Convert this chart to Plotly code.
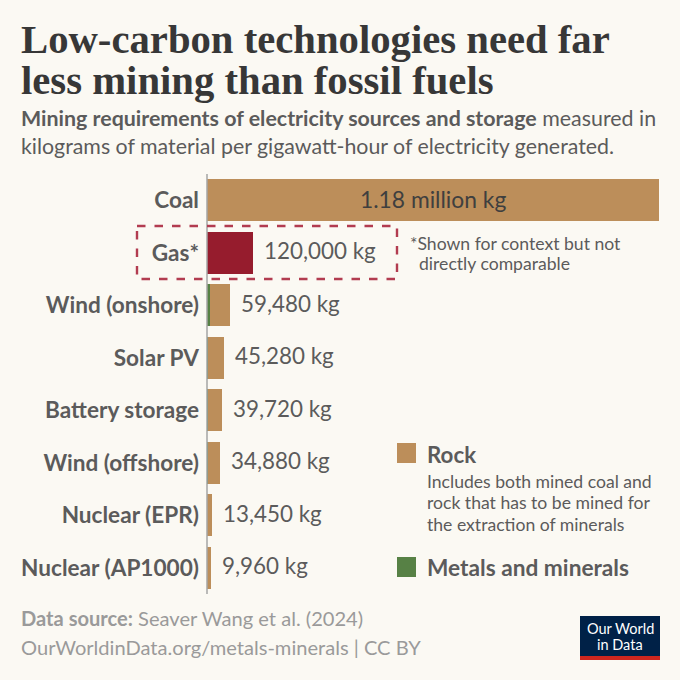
import plotly.graph_objects as go

categories = ["Coal", "Gas*", "Wind (onshore)", "Solar PV", "Battery storage",
              "Wind (offshore)", "Nuclear (EPR)", "Nuclear (AP1000)"]
totals = [1180000, 120000, 59480, 45280, 39720, 34880, 13450, 9960]
metals = [0, 0, 7500, 1900, 1300, 1700, 300, 250]
rock = [1180000, 0, 51980, 43380, 38420, 33180, 13150, 9710]
gas = [0, 120000, 0, 0, 0, 0, 0, 0]
labels = ["1.18 million kg", "120,000 kg", "59,480 kg", "45,280 kg", "39,720 kg",
          "34,880 kg", "13,450 kg", "9,960 kg"]

BG = "#fbf9f3"
TXT = "#5b5b5b"
W = H = 680
px = lambda v: v / W
py = lambda v: 1 - v / H

fig = go.Figure()
fig.add_bar(y=categories, x=metals, orientation="h", marker=dict(color="#578145", line_width=0), name="Metals and minerals")
fig.add_bar(y=categories, x=rock, orientation="h", marker=dict(color="#bc8e5a", line_width=0), name="Rock")
fig.add_bar(y=categories, x=gas, orientation="h", marker=dict(color="#961c2d", line_width=0), name="Gas")

anns = []
for i, (c, t, l) in enumerate(zip(categories, totals, labels)):
    if i == 0:
        anns.append(dict(x=t / 2, y=c, xref="x", yref="y", text=l, showarrow=False, yshift=1,
                         font=dict(family="Lato", size=22.8, color="#3f3f3f")))
    else:
        anns.append(dict(x=t, y=c, xref="x", yref="y", text=l, showarrow=False, xanchor="left", xshift=9, yshift=2,
                         font=dict(family="Lato", size=22.4, color=TXT)))


def txt(x, y, s, size, color=TXT, family="Lato", anchor="left", valign="middle"):
    anns.append(dict(x=px(x), y=py(y), xref="paper", yref="paper", text=s, showarrow=False,
                     xanchor=anchor, yanchor=valign, align=anchor, borderpad=0,
                     font=dict(family=family, size=size, color=color)))


TF = "Liberation Serif"
txt(20, 39, "<b>Low-carbon technologies need far</b>", 40.7, "#373737", TF)
txt(20, 80, "<b>less mining than fossil fuels</b>", 40.7, "#373737", TF)
txt(20, 118, "<b>Mining requirements of electricity sources and storage</b> measured in", 21.4)
txt(20, 146, "kilograms of material per gigawatt-hour of electricity generated.", 21.35)
txt(409, 243, "*Shown for context but not", 17.6)
txt(418, 264, "directly comparable", 17.6)
txt(426, 454, "<b>Rock</b>", 22.3)
txt(426, 481, "Includes both mined coal and", 17.6)
txt(426, 502, "rock that has to be mined for", 17.6)
txt(426, 524, "the extraction of minerals", 17.6)
txt(426, 567, "<b>Metals and minerals</b>", 22.7)
txt(20, 618, "<b>Data source:</b> Seaver Wang et al. (2024)", 20.1, "#9a9a9a")
txt(20, 647, "OurWorldinData.org/metals-minerals | CC BY", 20.1, "#9a9a9a")
txt(620, 628.5, "Our World", 14.5, "#ffffff", anchor="center")
txt(620, 644, "in Data", 14.5, "#ffffff", anchor="center")

shapes = [
    dict(type="line", xref="paper", yref="paper", x0=px(207), x1=px(207), y0=py(174), y1=py(594),
         line=dict(color="#a5a5a5", width=1.5), layer="above"),
    dict(type="rect", xref="paper", yref="paper", x0=px(137), x1=px(397), y0=py(226), y1=py(279),
         line=dict(color="#b23c50", width=2.4, dash="8.5px,9px")),
    dict(type="rect", xref="paper", yref="paper", x0=px(397), x1=px(416), y0=py(443), y1=py(463),
         fillcolor="#bc8e5a", line_width=0),
    dict(type="rect", xref="paper", yref="paper", x0=px(397), x1=px(416), y0=py(557), y1=py(577),
         fillcolor="#578145", line_width=0),
    dict(type="rect", xref="paper", yref="paper", x0=px(580), x1=px(660), y0=py(616), y1=py(656),
         fillcolor="#002147", line_width=0, layer="below"),
    dict(type="rect", xref="paper", yref="paper", x0=px(580), x1=px(660), y0=py(656), y1=py(660),
         fillcolor="#ce261e", line_width=0, layer="below"),
]

fig.update_layout(
    width=W, height=H, autosize=False, barmode="stack", bargap=0.2,
    margin=dict(l=0, r=0, t=0, b=0), paper_bgcolor=BG, plot_bgcolor=BG,
    showlegend=False, annotations=anns, shapes=shapes,
    font=dict(family="Lato", color=TXT),
    xaxis=dict(domain=[px(207), px(659)], range=[0, 1180000], visible=False, fixedrange=True),
    yaxis=dict(domain=[py(594), py(174)], autorange="reversed", showline=False, showgrid=False,
               ticks="", ticklabelstandoff=7, anchor="x",
               tickfont=dict(family="Lato", size=22.6, color=TXT, weight=700), fixedrange=True),
)
fig.write_html("out.html", config=dict(displayModeBar=False),
               post_script="document.body.style.margin='0';document.body.style.background='%s';" % BG)
